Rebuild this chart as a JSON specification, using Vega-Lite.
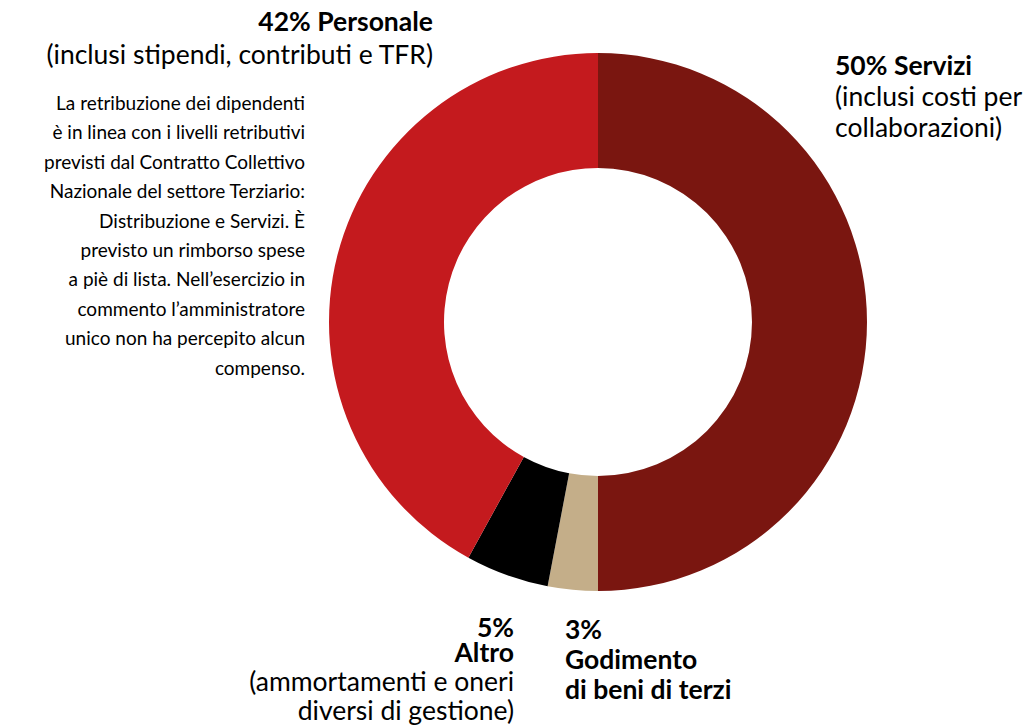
{
  "$schema": "https://vega.github.io/schema/vega-lite/v6.json",
  "width": 1025,
  "height": 725,
  "autosize": {"type": "none"},
  "padding": 0,
  "background": "white",
  "config": {"view": {"stroke": null}, "font": "Lato"},
  "datasets": {
    "spese": [
      {"voce": "Servizi", "quota": 50, "ord": 1},
      {"voce": "Godimento di beni di terzi", "quota": 3, "ord": 2},
      {"voce": "Altro", "quota": 5, "ord": 3},
      {"voce": "Personale", "quota": 42, "ord": 4}
    ],
    "personaleTitolo": [{"t": ["42% Personale"]}],
    "personaleSotto": [{"t": ["(inclusi stipendi, contributi e TFR)"]}],
    "nota": [{"t": ["La retribuzione dei dipendenti", "è in linea con i livelli retributivi", "previsti dal Contratto Collettivo", "Nazionale del settore Terziario:", "Distribuzione e Servizi. È", "previsto un rimborso spese", "a piè di lista. Nell’esercizio in", "commento l’amministratore", "unico non ha percepito alcun", "compenso."]}],
    "serviziTitolo": [{"t": ["50% Servizi"]}],
    "serviziSotto": [{"t": ["(inclusi costi per", "collaborazioni)"]}],
    "altroTitolo": [{"t": ["5%", "Altro"]}],
    "altroSotto": [{"t": ["(ammortamenti e oneri", "diversi di gestione)"]}],
    "godimentoTitolo": [{"t": ["3%", "Godimento", "di beni di terzi"]}]
  },
  "resolve": {"scale": {"x": "shared", "y": "shared"}},
  "layer": [
    {
      "data": {"name": "spese"},
      "mark": {"type": "arc", "radius": 269, "radius2": 154},
      "encoding": {
        "x": {"datum": 598, "type": "quantitative", "scale": {"domain": [0, 1025], "nice": false, "zero": false}, "axis": null},
        "y": {"datum": 322, "type": "quantitative", "scale": {"domain": [0, 725], "nice": false, "zero": false, "reverse": true}, "axis": null},
        "theta": {"field": "quota", "type": "quantitative", "stack": true},
        "order": {"field": "ord", "type": "quantitative"},
        "color": {
          "field": "voce", "type": "nominal", "legend": null,
          "scale": {"domain": ["Servizi", "Godimento di beni di terzi", "Altro", "Personale"], "range": ["#7a1610", "#c4ae89", "#000000", "#c41a1e"]}
        }
      }
    },
    {
      "data": {"name": "personaleTitolo"},
      "mark": {"type": "text", "align": "right", "baseline": "alphabetic", "fontSize": 26.5, "fontWeight": "bold", "color": "#000", "lineHeight": 31},
      "encoding": {"x": {"datum": 433, "type": "quantitative"}, "y": {"datum": 31, "type": "quantitative"}, "text": {"field": "t"}}
    },
    {
      "data": {"name": "personaleSotto"},
      "mark": {"type": "text", "align": "right", "baseline": "alphabetic", "fontSize": 26.5, "color": "#000", "lineHeight": 31},
      "encoding": {"x": {"datum": 433, "type": "quantitative"}, "y": {"datum": 64, "type": "quantitative"}, "text": {"field": "t"}}
    },
    {
      "data": {"name": "nota"},
      "mark": {"type": "text", "align": "right", "baseline": "alphabetic", "fontSize": 19, "color": "#000", "lineHeight": 29.4},
      "encoding": {"x": {"datum": 305, "type": "quantitative"}, "y": {"datum": 110, "type": "quantitative"}, "text": {"field": "t"}}
    },
    {
      "data": {"name": "serviziTitolo"},
      "mark": {"type": "text", "align": "left", "baseline": "alphabetic", "fontSize": 26.5, "fontWeight": "bold", "color": "#000", "lineHeight": 31},
      "encoding": {"x": {"datum": 835, "type": "quantitative"}, "y": {"datum": 75, "type": "quantitative"}, "text": {"field": "t"}}
    },
    {
      "data": {"name": "serviziSotto"},
      "mark": {"type": "text", "align": "left", "baseline": "alphabetic", "fontSize": 26.5, "color": "#000", "lineHeight": 31},
      "encoding": {"x": {"datum": 835, "type": "quantitative"}, "y": {"datum": 106, "type": "quantitative"}, "text": {"field": "t"}}
    },
    {
      "data": {"name": "altroTitolo"},
      "mark": {"type": "text", "align": "right", "baseline": "alphabetic", "fontSize": 26.5, "fontWeight": "bold", "color": "#000", "lineHeight": 25},
      "encoding": {"x": {"datum": 514, "type": "quantitative"}, "y": {"datum": 637, "type": "quantitative"}, "text": {"field": "t"}}
    },
    {
      "data": {"name": "altroSotto"},
      "mark": {"type": "text", "align": "right", "baseline": "alphabetic", "fontSize": 26.5, "color": "#000", "lineHeight": 29},
      "encoding": {"x": {"datum": 514, "type": "quantitative"}, "y": {"datum": 691, "type": "quantitative"}, "text": {"field": "t"}}
    },
    {
      "data": {"name": "godimentoTitolo"},
      "mark": {"type": "text", "align": "left", "baseline": "alphabetic", "fontSize": 26.5, "fontWeight": "bold", "color": "#000", "lineHeight": 30},
      "encoding": {"x": {"datum": 565, "type": "quantitative"}, "y": {"datum": 639, "type": "quantitative"}, "text": {"field": "t"}}
    }
  ]
}
